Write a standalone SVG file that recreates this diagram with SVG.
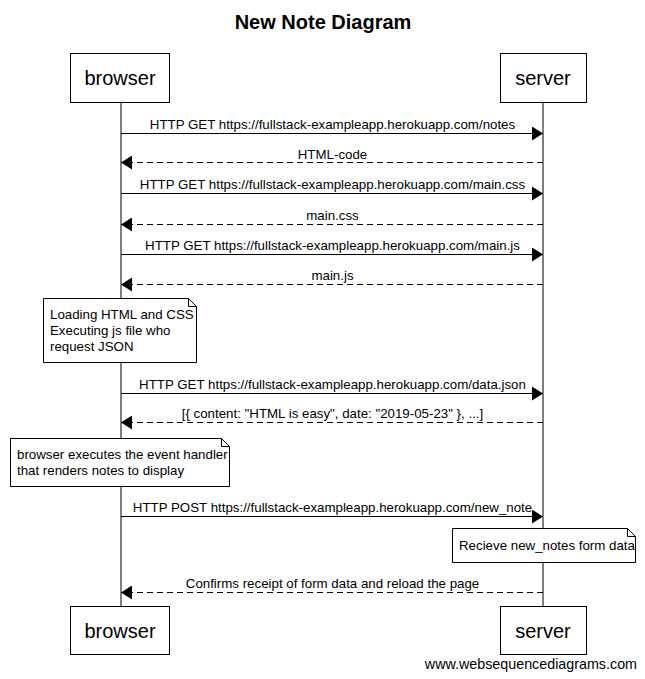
<svg xmlns="http://www.w3.org/2000/svg" width="645" height="679" viewBox="0 0 645 679">
<style>
text{font-family:"Liberation Sans",Arial,sans-serif;fill:#000}
.box{fill:#fff;stroke:#000;stroke-width:1}
.actor{font-size:20px;text-anchor:middle}
.lbl{font-size:13.3px;text-anchor:middle}
.note{font-size:13.3px}
.ln{stroke:#000;stroke-width:1;fill:none}
.dash{stroke-dasharray:6,4}
</style>
<defs>
<marker id="ah" markerWidth="11" markerHeight="14" refX="11" refY="7" orient="auto" markerUnits="userSpaceOnUse">
<path d="M0,0 L11,7 L0,14 Z" fill="#000"/>
</marker>
</defs>
<rect width="645" height="679" fill="#fff"/>
<text x="323" y="29" style="font-size:20px;font-weight:bold" text-anchor="middle">New Note Diagram</text>
<g id="lifelines">
<line class="ln" x1="121" y1="102" x2="121" y2="606"/>
<line class="ln" x1="543" y1="102" x2="543" y2="606"/>
</g>
<g id="browser">
<rect class="box" x="70.500" y="53.500" width="99" height="49"/>
<text class="actor" x="120" y="85">browser</text>
</g>
<g id="server">
<rect class="box" x="500.500" y="53.500" width="86" height="49"/>
<text class="actor" x="543" y="85">server</text>
</g>
<g id="browser-bottom">
<rect class="box" x="70.500" y="606.500" width="99" height="48"/>
<text class="actor" x="120" y="638">browser</text>
</g>
<g id="server-bottom">
<rect class="box" x="500.500" y="606.500" width="86" height="48"/>
<text class="actor" x="543" y="638">server</text>
</g>
<g id="connectors">
<line class="ln" x1="121" y1="133.500" x2="543" y2="133.500" marker-end="url(#ah)"/>
<text class="lbl" x="332.500" y="129">HTTP GET https://fullstack-exampleapp.herokuapp.com/notes</text>
<line class="ln dash" x1="543" y1="162.500" x2="121" y2="162.500" marker-end="url(#ah)"/>
<text class="lbl" x="332.500" y="159">HTML-code</text>
<line class="ln" x1="121" y1="193.500" x2="543" y2="193.500" marker-end="url(#ah)"/>
<text class="lbl" x="332.500" y="189">HTTP GET https://fullstack-exampleapp.herokuapp.com/main.css</text>
<line class="ln dash" x1="543" y1="224.500" x2="121" y2="224.500" marker-end="url(#ah)"/>
<text class="lbl" x="332.500" y="220">main.css</text>
<line class="ln" x1="121" y1="254.500" x2="543" y2="254.500" marker-end="url(#ah)"/>
<text class="lbl" x="332.500" y="250">HTTP GET https://fullstack-exampleapp.herokuapp.com/main.js</text>
<line class="ln dash" x1="543" y1="284.500" x2="121" y2="284.500" marker-end="url(#ah)"/>
<text class="lbl" x="332.500" y="280">main.js</text>
<line class="ln" x1="121" y1="393.500" x2="543" y2="393.500" marker-end="url(#ah)"/>
<text class="lbl" x="332.500" y="389">HTTP GET https://fullstack-exampleapp.herokuapp.com/data.json</text>
<line class="ln dash" x1="543" y1="422.500" x2="121" y2="422.500" marker-end="url(#ah)"/>
<text class="lbl" x="332.500" y="418">[{ content: "HTML is easy", date: "2019-05-23" }, ...]</text>
<line class="ln" x1="121" y1="516.500" x2="543" y2="516.500" marker-end="url(#ah)"/>
<text class="lbl" x="332.500" y="512">HTTP POST https://fullstack-exampleapp.herokuapp.com/new_note</text>
<line class="ln dash" x1="543" y1="592.500" x2="121" y2="592.500" marker-end="url(#ah)"/>
<text class="lbl" x="332.500" y="588">Confirms receipt of form data and reload the page</text>
</g>
<g id="note1">
<path class="box" d="M43.500,298.500 H188.500 L196.500,306.500 V362.500 H43.500 Z"/>
<path class="ln" d="M188.500,298.500 V306.500 H196.500"/>
<text class="note" x="50" y="319">Loading HTML and CSS</text>
<text class="note" x="50" y="335">Executing js file who</text>
<text class="note" x="50" y="351">request JSON</text>
</g>
<g id="note2">
<path class="box" d="M10.500,438.500 H221.500 L229.500,446.500 V486.500 H10.500 Z"/>
<path class="ln" d="M221.500,438.500 V446.500 H229.500"/>
<text class="note" x="17" y="459">browser executes the event handler</text>
<text class="note" x="17" y="475">that renders notes to display</text>
</g>
<g id="note3">
<path class="box" d="M452.500,528.500 H627.500 L635.500,536.500 V562.500 H452.500 Z"/>
<path class="ln" d="M627.500,528.500 V536.500 H635.500"/>
<text class="note" x="459" y="550">Recieve new_notes form data</text>
</g>
<text x="637" y="669" style="font-size:14.3px" text-anchor="end">www.websequencediagrams.com</text>
</svg>
